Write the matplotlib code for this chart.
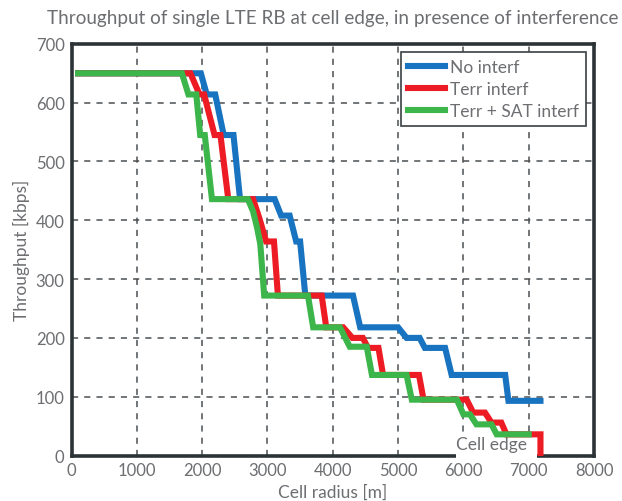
import matplotlib
matplotlib.use("Agg")
import matplotlib.pyplot as plt
from matplotlib.patches import Rectangle

# ---- data ----
blue_x = [100, 1980, 2070, 2200, 2330, 2480, 2580, 3110, 3210, 3340, 3440, 3500, 3580,
          4310, 4420, 5000, 5130, 5330, 5410, 5720, 5820, 6640, 6690, 7180]
blue_y = [650, 650, 614, 614, 545, 545, 436, 436, 408, 408, 364, 364, 272,
          272, 218, 218, 200, 200, 183, 183, 137, 137, 93, 93]

red_x = [100, 1820, 1960, 2030, 2190, 2280, 2400, 2780, 2880, 2980, 3100, 3160, 3830, 3900,
         4160, 4300, 4460, 4540, 4700, 4770, 5320, 5390, 6050, 6150, 6330, 6430, 6580,
         6660, 7180, 7180]
red_y = [650, 650, 614, 614, 545, 545, 436, 436, 402, 364, 364, 272, 272, 218,
         218, 200, 200, 183, 183, 137, 137, 95, 95, 73, 73, 56, 56,
         36, 36, 0]

green_x = [100, 1690, 1790, 1910, 1970, 2040, 2150, 2700, 2780, 2840, 2890, 2950, 3620, 3700,
           4110, 4260, 4520, 4600, 5130, 5210, 5900, 6000, 6100, 6200, 6430, 6510, 7000]
green_y = [650, 650, 614, 614, 545, 545, 436, 436, 415, 388, 360, 272, 272, 218,
           218, 185, 185, 137, 137, 95, 95, 70, 70, 53, 53, 36, 36]

series_names = ["No interf", "Terr interf", "Terr + SAT interf"]
x_ticks = [0, 1000, 2000, 3000, 4000, 5000, 6000, 7000, 8000]
y_ticks = [0, 100, 200, 300, 400, 500, 600, 700]

title = "Throughput of single LTE RB at cell edge, in presence of interference"
x_label = "Cell radius [m]"
y_label = "Throughput [kbps]"
annotation = "Cell edge"

# ---- style ----
plt.rcParams['font.family'] = ['Lato', 'DejaVu Sans']
text_col = "#6d6e71"
spine_col = "#2b3336"
colors = ["#1874c0", "#ed1c24", "#3cb54a"]
lw = 4.4

fig = plt.figure(figsize=(6.22, 5.02), dpi=100)
ax = fig.add_axes([0.115, 0.0906, 0.84, 0.82])

for xs, ys, c, name in zip([blue_x, red_x, green_x], [blue_y, red_y, green_y], colors, series_names):
    ax.plot(xs, ys, color=c, lw=lw, label=name, solid_joinstyle='miter', zorder=3)

ax.set_xlim(0, 8000)
ax.set_ylim(0, 700)
ax.set_xticks(x_ticks)
ax.set_yticks(y_ticks)
ax.tick_params(length=0, labelsize=12, colors=text_col, pad=5)
ax.grid(True, linestyle=(0, (4, 4)), color="#4a4f52", lw=1.1)
ax.set_axisbelow(True)
for s in ax.spines.values():
    s.set_color(spine_col)
    s.set_linewidth(2.6)

ax.set_title(title, fontsize=13.6, color=text_col, pad=15)
ax.set_xlabel(x_label, fontsize=12.5, color=text_col, labelpad=4)
ax.set_ylabel(y_label, fontsize=12.5, color=text_col, labelpad=4)

# white label box for the "Cell edge" note (covers the bottom spine as in the original)
ax.add_patch(Rectangle((5880, -12), 1250, 50, facecolor='white', edgecolor='none',
                       zorder=2.7, clip_on=False))
ax.text(6432, 19, annotation, fontsize=12.5, color=text_col, ha='center', va='center',
        zorder=2.8, clip_on=False)

leg = ax.legend(loc='upper right', fontsize=12.5, handlelength=2.15, handletextpad=0.3,
                borderpad=0.4, labelspacing=0.35, fancybox=False, framealpha=1,
                borderaxespad=0.45)
leg.get_frame().set_edgecolor("#3a3f42")
leg.get_frame().set_linewidth(1.2)
for t in leg.get_texts():
    t.set_color(text_col)

fig.savefig("out.png", dpi=100)
